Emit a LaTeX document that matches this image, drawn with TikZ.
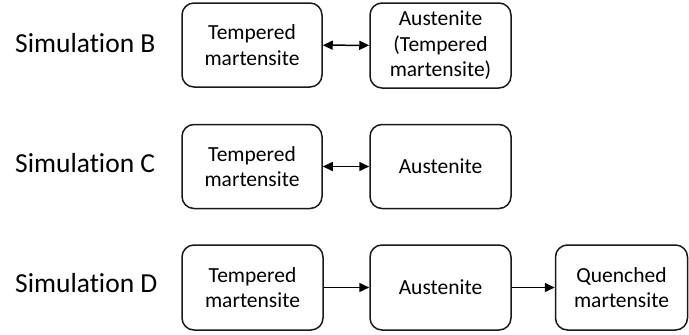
\documentclass[tikz,border=0pt]{standalone}
\usepackage{fontspec}
\setmainfont[Ligatures=NoCommon]{Carlito}
\usetikzlibrary{arrows.meta}
\begin{document}
\begin{tikzpicture}[x=1pt,y=-1pt,
  stage/.style={draw=black!90, line width=1.5pt, rounded corners=12pt, align=center,
    inner sep=0pt, font=\fontsize{21.5}{25.5}\selectfont, text=black},
  simlabel/.style={anchor=base west, inner sep=0pt, font=\fontsize{27.5}{32}\selectfont, text=black},
  link/.style={line width=1.5pt, draw=black},
  tip/.tip={Triangle[length=10pt,width=9pt]}]
\useasboundingbox (0,0) rectangle (689,335);

% row labels
\node[simlabel] (lb) at (15,52) {Simulation B};
\node[simlabel] (lc) at (15,172) {Simulation C};
\node[simlabel] (ld) at (15,292) {Simulation D};

% Simulation B
\node[stage, minimum width=140pt, minimum height=84pt] (b1) at (252,45) {Tempered\\martensite};
\node[stage, minimum width=141pt, minimum height=85pt] (b2) at (440.5,45.5) {Austenite\\(Tempered\\martensite)};
\draw[link, tip-tip] (b1) -- (b2);

% Simulation C
\node[stage, minimum width=140pt, minimum height=84pt] (c1) at (252,166.5) {Tempered\\martensite};
\node[stage, minimum width=141pt, minimum height=84pt] (c2) at (440.5,166.5) {Austenite};
\draw[link, tip-tip] (c1) -- (c2);

% Simulation D
\node[stage, minimum width=141pt, minimum height=85pt] (d1) at (252.5,287.5) {Tempered\\martensite};
\node[stage, minimum width=141pt, minimum height=85pt] (d2) at (440.5,287.5) {Austenite};
\node[stage, minimum width=132pt, minimum height=85pt] (d3) at (621.5,287.5) {Quenched\\martensite};
\draw[link, -tip] (d1) -- (d2);
\draw[link, -tip] (d2) -- (d3);
\end{tikzpicture}
\end{document}
